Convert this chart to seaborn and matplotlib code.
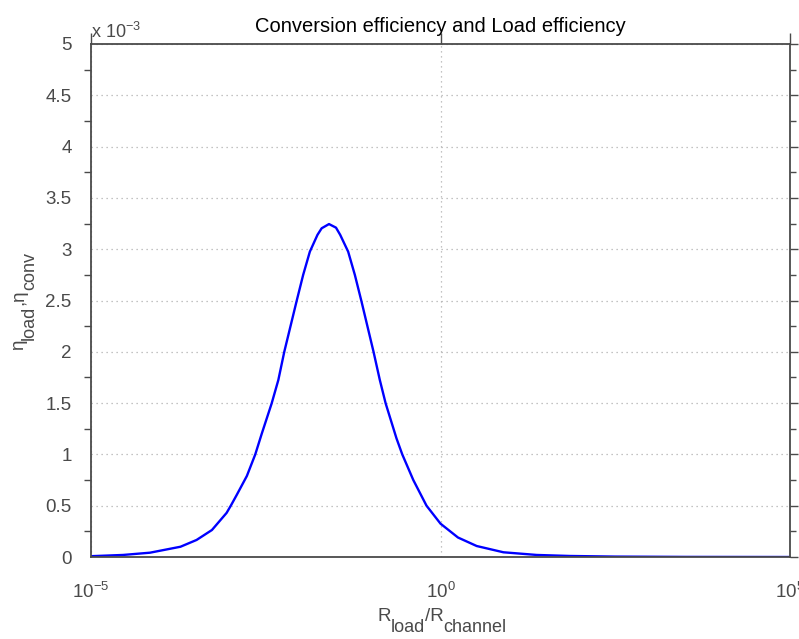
import numpy as np
import pandas as pd
import matplotlib
matplotlib.use("Agg")
import matplotlib.pyplot as plt
import matplotlib.ticker as mticker
import seaborn as sns

# Data (x as log10 of R_load/R_channel, y in units of 1e-3)
log_ratio = [-5.0, -4.54, -4.156, -3.72, -3.49, -3.27, -3.06, -3.0, -2.916, -2.77,
             -2.65, -2.558, -2.415, -2.32, -2.235, -2.06, -1.965, -1.869, -1.76,
             -1.70, -1.595, -1.495, -1.435, -1.321, -1.225, -1.13, -0.958, -0.868,
             -0.785, -0.63, -0.547, -0.389, -0.20, 0.0, 0.25, 0.518, 0.9, 1.376,
             1.85, 2.5, 3.5, 5.0]
efficiency_e3 = [0.008, 0.02, 0.042, 0.10, 0.166, 0.263, 0.43, 0.5, 0.604, 0.79,
                 1.0, 1.2, 1.498, 1.725, 2.0, 2.49, 2.749, 2.976, 3.14,
                 3.204, 3.245, 3.21, 3.14, 2.976, 2.749, 2.49, 2.0, 1.725,
                 1.498, 1.157, 1.0, 0.75, 0.5, 0.325, 0.19, 0.107, 0.046, 0.02,
                 0.01, 0.004, 0.001, 0.0]
y_ticks = [0, 0.5, 1, 1.5, 2, 2.5, 3, 3.5, 4, 4.5, 5]
x_ticks = [1e-5, 1e0, 1e5]
x_tick_labels = [r"$10^{-5}$", r"$10^{0}$", r"$10^{5}$"]
title = "Conversion efficiency and Load efficiency"
xlabel_parts = [("R", 0), ("load", 1), ("/R", 0), ("channel", 1)]
ylabel_parts = [("\u03b7", 0), ("load", 1), (",\u03b7", 0), ("conv", 1)]

df = pd.DataFrame({"ratio": np.power(10.0, log_ratio), "eff": efficiency_e3})

sns.set_style("white")
plt.rcParams["font.family"] = ["Liberation Sans", "DejaVu Sans"]
plt.rcParams["mathtext.fontset"] = "custom"
plt.rcParams["mathtext.rm"] = "Liberation Sans"
plt.rcParams["mathtext.it"] = "Liberation Sans"
plt.rcParams["mathtext.sf"] = "Liberation Sans"

W, H = 799, 639
gray = "#4a4a4a"
fig = plt.figure(figsize=(W / 100, H / 100), dpi=100)
ax = fig.add_axes([91 / W, 1 - 557 / H, (790 - 91) / W, (557 - 44) / H])

sns.lineplot(data=df, x="ratio", y="eff", ax=ax, color="#0000ff", linewidth=1.7, sort=True)
for ln in ax.lines:
    ln.set_solid_joinstyle("round")
ax.set_xscale("log")
ax.set_xlim(1e-5, 1e5)
ax.set_ylim(0, 5)

ax.set_xticks(x_ticks)
ax.set_xticklabels(x_tick_labels)
ax.xaxis.set_minor_locator(mticker.NullLocator())
ax.set_yticks(y_ticks)
ax.set_yticklabels([f"{v:g}" for v in y_ticks])
ax.yaxis.set_minor_locator(mticker.MultipleLocator(0.25))

ax.tick_params(axis="both", which="major", direction="out", length=10, width=1,
               color=gray, labelcolor=gray, labelsize=13.5, pad=4)
ax.tick_params(axis="y", which="minor", direction="out", length=5, width=1, color=gray, left=True)
ax.tick_params(axis="x", which="major", pad=8)

for s in ax.spines.values():
    s.set_color(gray)
    s.set_linewidth(1.3)
    s.set_visible(True)

ax.grid(True, which="major", linestyle=(0, (1, 3)), color="#b0b0b0", linewidth=0.9)

# right / top ticks (shorter, outward)
secy = ax.secondary_yaxis("right")
secy.set_yticks(y_ticks)
secy.yaxis.set_minor_locator(mticker.MultipleLocator(0.25))
secy.tick_params(which="major", direction="out", length=6, width=1, color=gray, labelright=False)
secy.tick_params(which="minor", direction="out", length=4, width=1, color=gray)
secy.spines["right"].set_visible(False)
secx = ax.secondary_xaxis("top")
secx.set_xticks(x_ticks)
secx.xaxis.set_minor_locator(mticker.NullLocator())
secx.tick_params(which="major", direction="out", length=8, width=1, color=gray, labeltop=False)
secx.spines["top"].set_visible(False)

ax.set_xlabel("")
ax.set_ylabel("")
ax.set_title(title, fontsize=14.5, color="black", pad=9)
ax.text(0.0, 1.003, r"x 10$^{-3}$", transform=ax.transAxes, ha="left", va="bottom",
        fontsize=13, color=gray)


def place_label(parts, center, base, vertical=False, main_size=13.5, sub_size=13.0, drop=11):
    renderer = fig.canvas.get_renderer()
    sizes, widths = [], []
    for txt, is_sub in parts:
        size = sub_size if is_sub else main_size
        t = fig.text(0, 0, txt, fontsize=size)
        widths.append(t.get_window_extent(renderer).width)
        t.remove()
        sizes.append(size)
    pos = center - sum(widths) / 2
    for (txt, is_sub), size, w in zip(parts, sizes, widths):
        off = drop if is_sub else 0
        if vertical:
            fig.text((base + off) / W, pos / H, txt, fontsize=size, color=gray, rotation=90,
                     rotation_mode="anchor", ha="left", va="baseline")
        else:
            fig.text(pos / W, (base - off) / H, txt, fontsize=size, color=gray,
                     rotation_mode="anchor", ha="left", va="baseline")
        pos += w


place_label(xlabel_parts, center=442, base=H - 620.7)
place_label(ylabel_parts, center=H - 301, base=23, vertical=True)

fig.savefig("out.png", dpi=100)
